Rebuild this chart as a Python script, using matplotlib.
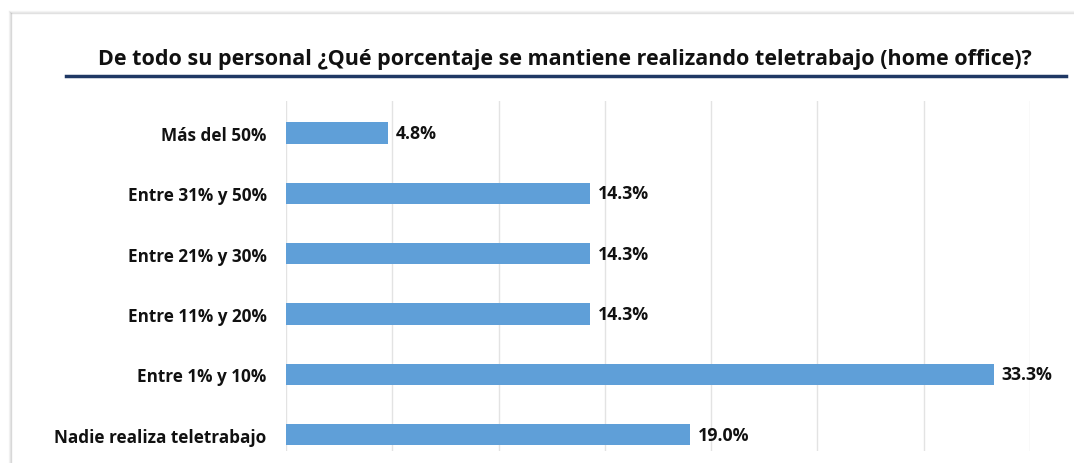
import matplotlib
matplotlib.use("Agg")
import matplotlib.pyplot as plt
from matplotlib.lines import Line2D

categories = ["Más del 50%", "Entre 31% y 50%", "Entre 21% y 30%",
              "Entre 11% y 20%", "Entre 1% y 10%", "Nadie realiza teletrabajo"]
values = [4.8, 14.3, 14.3, 14.3, 33.3, 19.0]
title = "De todo su personal ¿Qué porcentaje se mantiene realizando teletrabajo (home office)?"

W, H = 1074, 464
plt.rcParams['font.family'] = ['Open Sans', 'DejaVu Sans']

fig = plt.figure(figsize=(W / 100, H / 100), dpi=100)
fig.patch.set_facecolor("white")

# soft frame shadow at left and top
for i, a in enumerate([0.35, 0.2, 0.1]):
    fig.add_artist(Line2D([(11 - i) / W, (11 - i) / W], [0, (H - 14 + i) / H],
                          color="#9a9a9a", alpha=a, lw=1, transform=fig.transFigure))
    fig.add_artist(Line2D([(11 - i) / W, 1], [(H - 14 + i) / H, (H - 14 + i) / H],
                          color="#b0b0b0", alpha=a, lw=1, transform=fig.transFigure))

# title and its underline
fig.text(565 / W, 1 - 60 / H, title, ha="center", va="center",
         fontsize=15.5, fontweight="bold", color="#111111")
fig.add_artist(Line2D([66 / W, 1066 / W], [1 - 77 / H, 1 - 77 / H],
                      color="#1F3864", lw=2.5, transform=fig.transFigure))

ax = fig.add_axes([286 / W, 12 / H, (1030 - 286) / W, (452 - 102) / H])
y = list(range(len(categories)))
ax.barh(y, values, height=0.35, color="#5F9FD8", zorder=2)
ax.set_xlim(0, 35)
ax.set_ylim(5.27, -0.53)
ax.set_xticks([0, 5, 10, 15, 20, 25, 30, 35])
ax.xaxis.grid(True, color="#e3e3e3", lw=1, zorder=0)
ax.tick_params(axis="x", length=0, labelbottom=False)
ax.tick_params(axis="y", length=0, pad=14)
ax.set_yticks(y)
ax.set_yticklabels(categories, fontsize=12.3, fontweight="bold", color="#111111")
for s in ax.spines.values():
    s.set_visible(False)

for yi, v in zip(y, values):
    ax.annotate(f"{v:.1f}%", (v, yi), xytext=(5.5, 0), textcoords="offset points",
                va="center", ha="left", fontsize=12.8, fontweight="bold", color="#111111")

fig.savefig("out.png", dpi=100)
